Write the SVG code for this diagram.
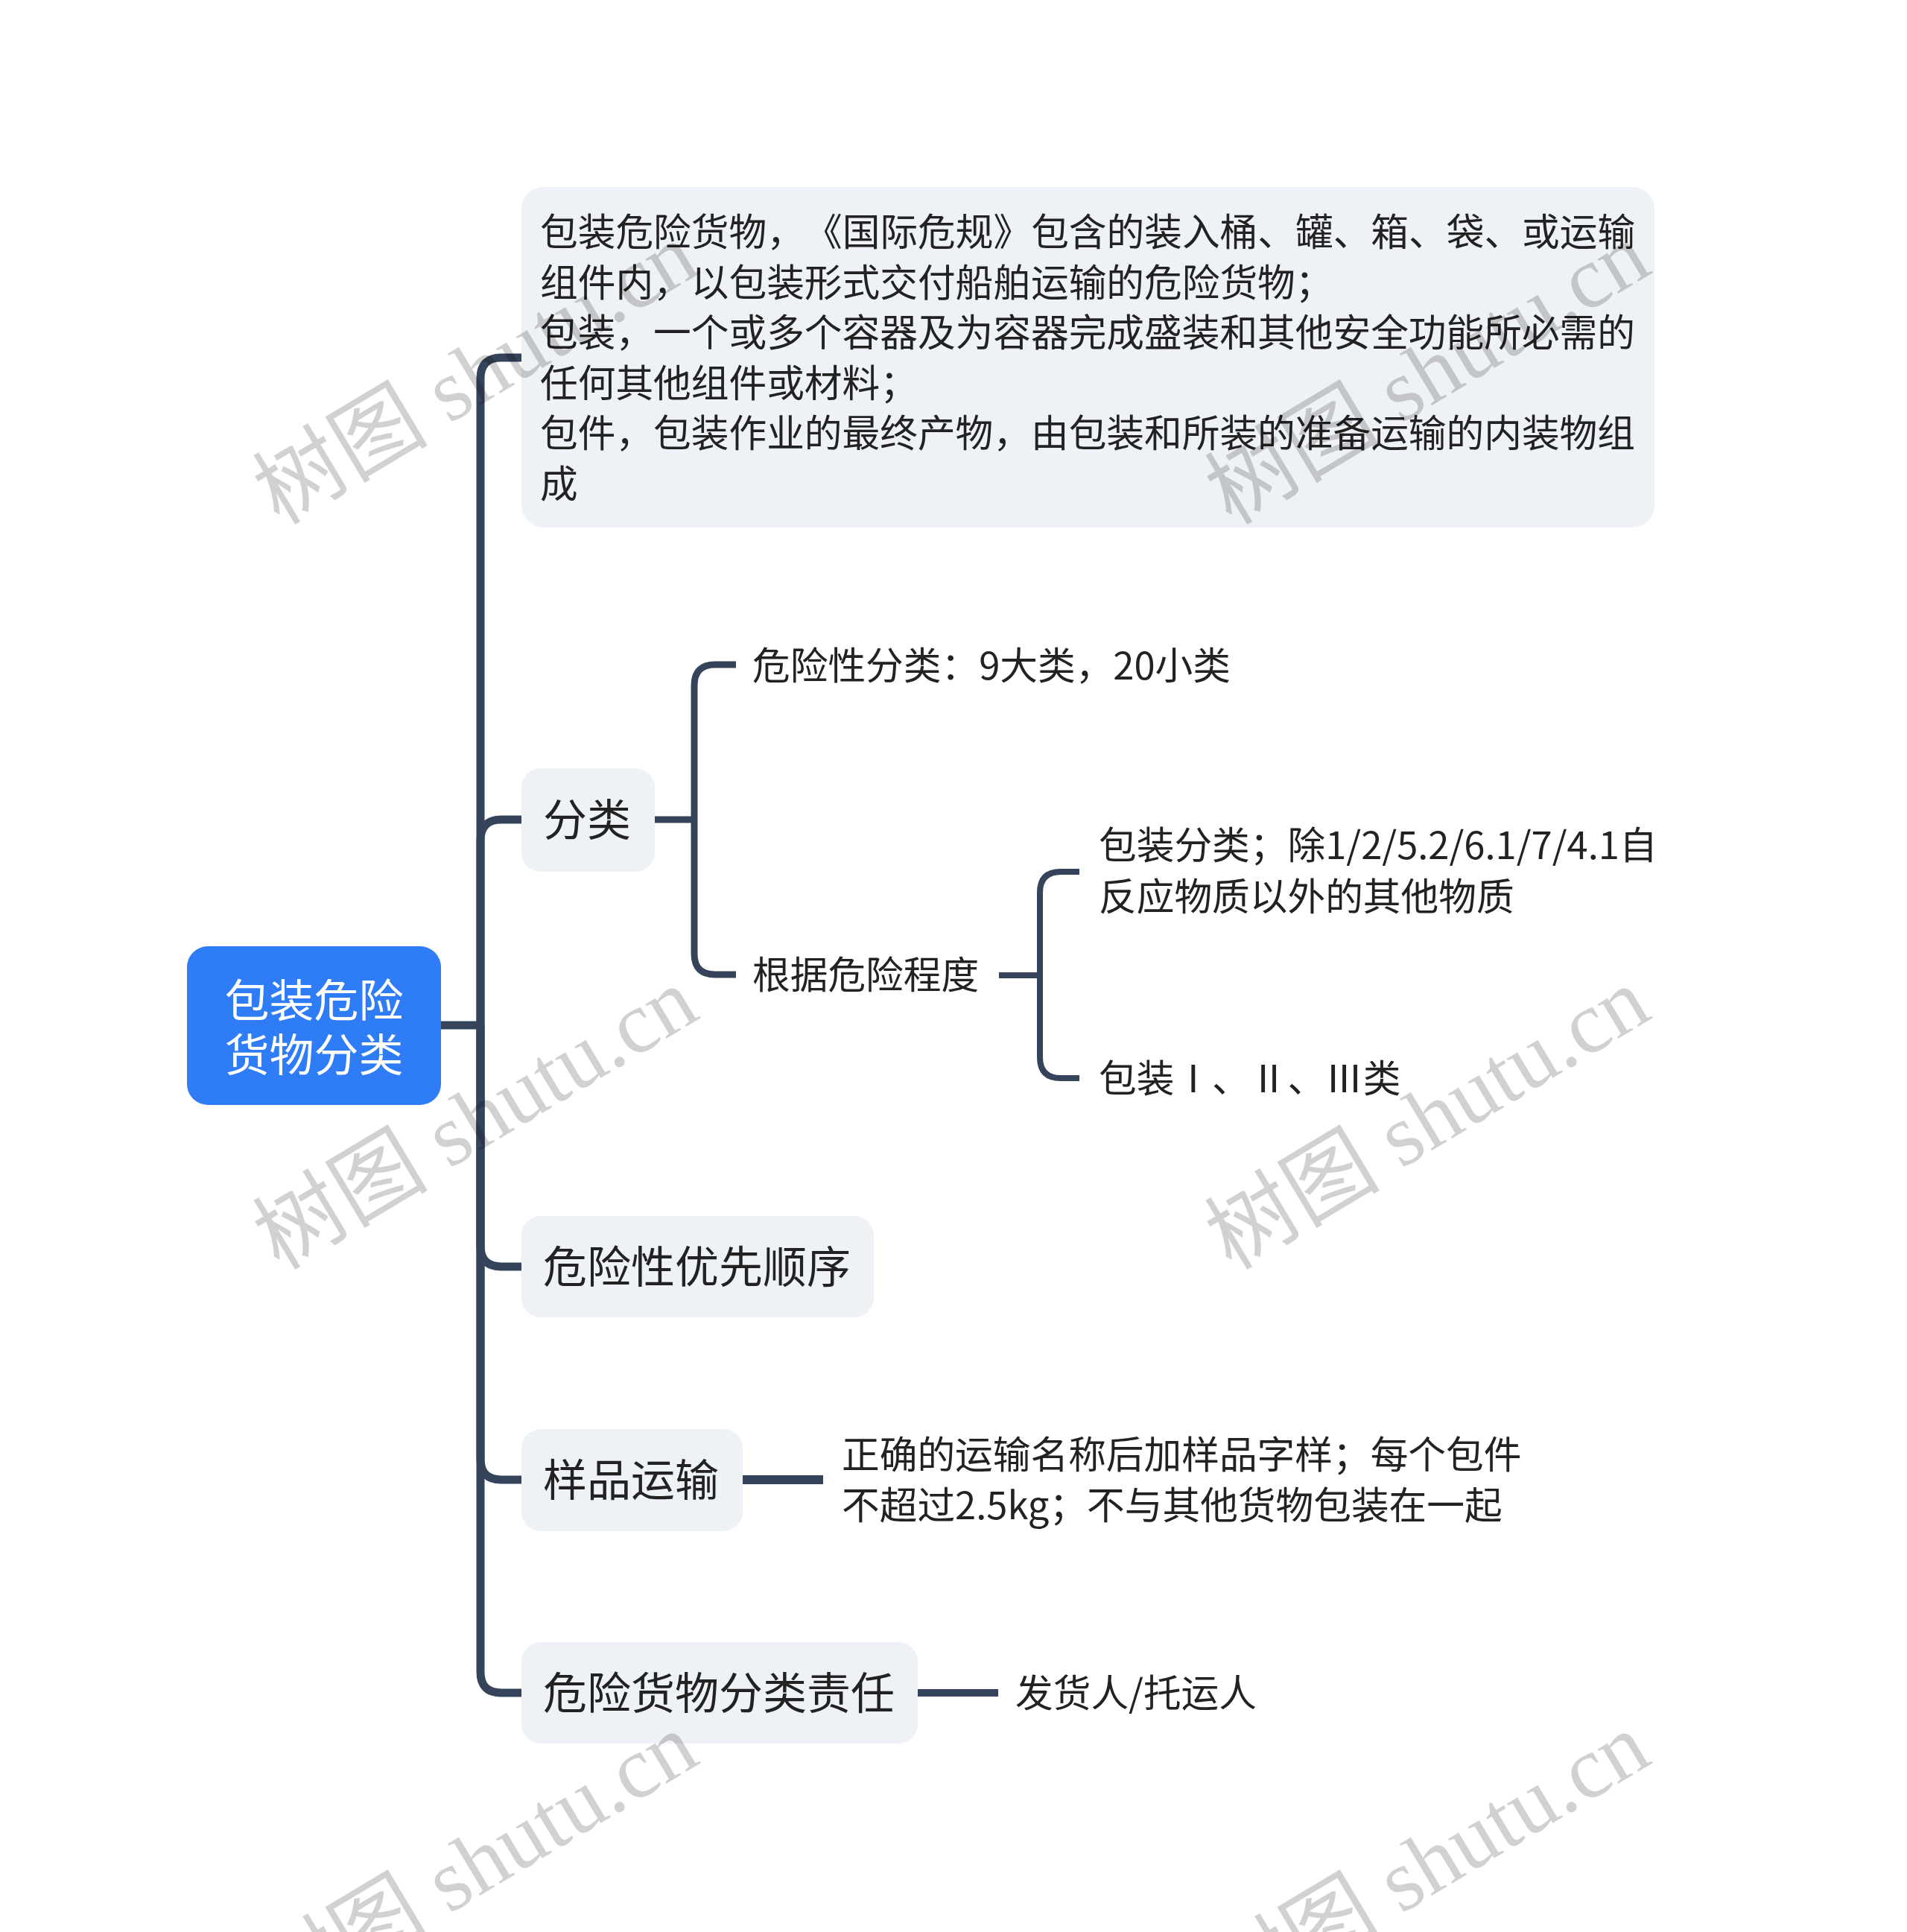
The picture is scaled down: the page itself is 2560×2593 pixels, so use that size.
<svg xmlns="http://www.w3.org/2000/svg" width="2560" height="2593" viewBox="0 0 2560 2593">
<style>
.bg{fill:#ffffff}
.root{fill:#2e7cf6}
.node{fill:#eef1f5}
.t{font-family:"Noto Sans CJK SC","Noto Sans",sans-serif;fill:#222222;text-spacing-trim:space-all}
.t50{font-size:50.7px}
.t59{font-size:59px}
.rt{font-family:"Noto Sans CJK SC","Noto Sans",sans-serif;font-size:60px;fill:#ffffff;text-anchor:middle}
.ln{fill:none;stroke:#35445a;stroke-linecap:butt;stroke-linejoin:round}
.w11{stroke-width:11}
.w9{stroke-width:9}
.w8{stroke-width:8}
.w12{stroke-width:12}
.w10{stroke-width:10}
.wm{font-family:"Liberation Serif","Noto Sans CJK SC",serif;font-size:118px;fill:#000000;fill-opacity:0.18}
</style>
<rect class="bg" x="0" y="0" width="2560" height="2593"/>
<g id="connectors">
<path class="ln w11" d="M592 1376 H645"/>
<path class="ln w11" d="M645 1376 V508 Q645 480 673 480 H700"/>
<path class="ln w11" d="M645 1376 V1128 Q645 1100 673 1100 H700"/>
<path class="ln w11" d="M645 1376 V1672 Q645 1700 673 1700 H700"/>
<path class="ln w11" d="M645 1376 V1958 Q645 1986 673 1986 H700"/>
<path class="ln w11" d="M645 1376 V2244 Q645 2272 673 2272 H700"/>
<path class="ln w9" d="M879 1100 H932"/>
<path class="ln w9" d="M932 1100 V920 Q932 892 960 892 H988"/>
<path class="ln w9" d="M932 1100 V1280 Q932 1308 960 1308 H988"/>
<path class="ln w8" d="M1341 1309 H1396"/>
<path class="ln w8" d="M1396 1309 V1198 Q1396 1170 1424 1170 H1449"/>
<path class="ln w8" d="M1396 1309 V1419 Q1396 1447 1424 1447 H1449"/>
<path class="ln w12" d="M997 1986 H1105"/>
<path class="ln w10" d="M1232 2272 H1340"/>
</g>
<g id="root">
<rect class="root" x="251" y="1270" width="341" height="213" rx="28"/>
<text class="rt" x="421.5" y="1365">包装危险</text>
<text class="rt" x="421.5" y="1438">货物分类</text>
</g>
<g id="definition">
<rect class="node" x="700" y="251" width="1521" height="457" rx="30"/>
<text class="t t50" x="725" y="330">包装危险货物，<tspan x="1080">《国际危规》包含的装入桶、罐、箱、袋、或运输</tspan></text>
<text class="t t50" x="725" y="397.5">组件内，以包装形式交付船舶运输的危险货物；</text>
<text class="t t50" x="725" y="465">包装，一个或多个容器及为容器完成盛装和其他安全功能所必需的</text>
<text class="t t50" x="725" y="532.5">任何其他组件或材料；</text>
<text class="t t50" x="725" y="600">包件，包装作业的最终产物，由包装和所装的准备运输的内装物组</text>
<text class="t t50" x="725" y="667.5">成</text>
</g>
<g id="classify">
<rect class="node" x="700" y="1031" width="179" height="139" rx="26"/>
<text class="t t59" x="729" y="1122">分类</text>
</g>
<g id="hazard-class">
<text class="t t50" x="1010" y="912">危险性分类：9大类，20小类</text>
</g>
<g id="by-degree">
<text class="t t50" x="1010" y="1327">根据危险程度</text>
</g>
<g id="pack-class">
<text class="t t50" x="1475" y="1153">包装分类；除1/2/5.2/6.1/7/4.1自</text>
<text class="t t50" x="1475" y="1222">反应物质以外的其他物质</text>
</g>
<g id="pack-groups">
<text class="t t50" x="1475" y="1466">包装Ⅰ、Ⅱ、Ⅲ类</text>
</g>
<g id="priority">
<rect class="node" x="700" y="1632" width="473" height="136" rx="26"/>
<text class="t t59" x="729" y="1722">危险性优先顺序</text>
</g>
<g id="sample">
<rect class="node" x="700" y="1918" width="297" height="137" rx="26"/>
<text class="t t59" x="729" y="2008">样品运输</text>
</g>
<g id="sample-detail">
<text class="t t50" x="1130" y="1971">正确的运输名称后加样品字样；每个包件</text>
<text class="t t50" x="1130" y="2039">不超过2.5kg；不与其他货物包装在一起</text>
</g>
<g id="responsibility">
<rect class="node" x="700" y="2204" width="532" height="136" rx="26"/>
<text class="t t59" x="729" y="2294">危险货物分类责任</text>
</g>
<g id="shipper">
<text class="t t50" x="1363" y="2291">发货人/托运人</text>
</g>
<g id="watermarks">
<text class="wm" transform="translate(375 706) rotate(-31)">树图 shutu.cn</text>
<text class="wm" transform="translate(1653 706) rotate(-31)">树图 shutu.cn</text>
<text class="wm" transform="translate(375 1706) rotate(-31)">树图 shutu.cn</text>
<text class="wm" transform="translate(1653 1706) rotate(-31)">树图 shutu.cn</text>
<text class="wm" transform="translate(375 2706) rotate(-31)">树图 shutu.cn</text>
<text class="wm" transform="translate(1653 2706) rotate(-31)">树图 shutu.cn</text>
</g>
</svg>
